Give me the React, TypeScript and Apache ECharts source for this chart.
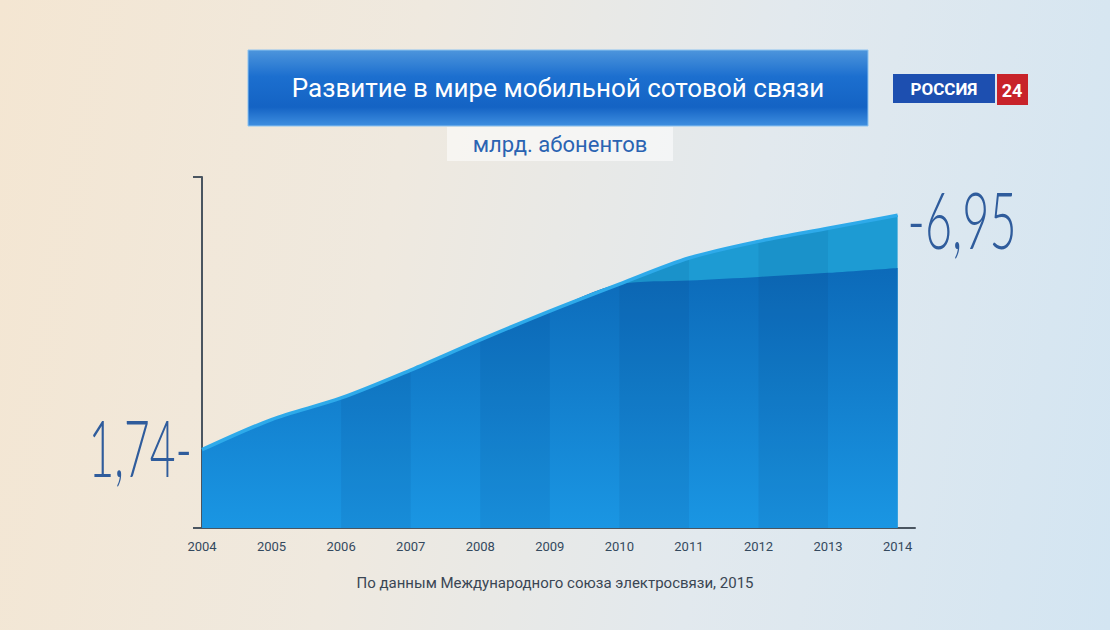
import React, { useEffect, useRef } from "react";
import * as echarts from "echarts";

const years = [2004, 2005, 2006, 2007, 2008, 2009, 2010, 2011, 2012, 2013, 2014];
const subscribers = [1.74, 2.41, 2.89, 3.51, 4.18, 4.82, 5.42, 6.0, 6.37, 6.66, 6.95];
// darker front face of the 3D-looking area (lighter top band after 2010)
const frontFace = [1.74, 2.41, 2.89, 3.51, 4.18, 4.82, 5.42, 5.5, 5.58, 5.67, 5.78];
// years that start a slightly darker vertical column in the area
const darkBandStarts = [2006, 2008, 2010, 2012];
const titleText = "Развитие в мире мобильной сотовой связи";
const unitText = "млрд. абонентов";
const sourceText = "По данным Международного союза электросвязи, 2015";

const fmt = (v: number) => v.toFixed(2).replace(".", ",");

export default function App() {
  const ref = useRef<HTMLDivElement>(null);
  useEffect(() => {
    if (!ref.current) return;
    const chart = echarts.init(ref.current, null, { renderer: "svg" });
    const n = years.length;
    const graphics: any[] = [
      {
        type: "rect",
        shape: { x: 248, y: 50, width: 620, height: 76 },
        style: {
          fill: {
            type: "linear",
            x: 0,
            y: 0,
            x2: 0,
            y2: 1,
            colorStops: [
              { offset: 0, color: "#4d95dc" },
              { offset: 0.35, color: "#1c6fcf" },
              { offset: 0.75, color: "#1463c4" },
              { offset: 1, color: "#3f8fe0" },
            ],
          },
          stroke: "#8cc3f0",
          lineWidth: 1,
        },
      },
      {
        type: "text",
        x: 558,
        y: 88,
        style: {
          text: titleText,
          fill: "#ffffff",
          font: "26px Roboto",
          align: "center",
          verticalAlign: "middle",
        },
      },
      {
        type: "rect",
        shape: { x: 447, y: 127, width: 226, height: 34 },
        style: { fill: "rgba(255,255,255,0.55)" },
      },
      {
        type: "text",
        x: 560,
        y: 144,
        style: {
          text: unitText,
          fill: "#2a63b2",
          font: "22px Roboto",
          align: "center",
          verticalAlign: "middle",
        },
      },
      {
        type: "rect",
        shape: { x: 893, y: 74, width: 102, height: 29 },
        style: { fill: "#1d4fb0" },
      },
      {
        type: "text",
        x: 944,
        y: 89,
        style: {
          text: "РОССИЯ",
          fill: "#ffffff",
          font: "bold 17px Roboto",
          align: "center",
          verticalAlign: "middle",
        },
      },
      {
        type: "rect",
        shape: { x: 997, y: 74, width: 31, height: 31 },
        style: { fill: "#c8232a" },
      },
      {
        type: "text",
        x: 1012,
        y: 90,
        style: {
          text: "24",
          fill: "#ffffff",
          font: "bold 18px Roboto",
          align: "center",
          verticalAlign: "middle",
        },
      },
      {
        type: "text",
        x: 555,
        y: 583,
        style: {
          text: sourceText,
          fill: "#3a4654",
          font: "15px Roboto",
          align: "center",
          verticalAlign: "middle",
        },
      },
    ];
    const option: any = {
      animation: false,
      grid: { left: 202, right: 195, top: 177, bottom: 102 },
      xAxis: {
        type: "value",
        min: 2004,
        max: 2014.25,
        interval: 1,
        splitLine: { show: false },
        axisTick: { show: false },
        axisLine: { show: true, lineStyle: { color: "#4a5560", width: 2 } },
        axisLabel: {
          margin: 12,
          color: "#34495e",
          fontFamily: "Roboto",
          fontSize: 13,
          formatter: (v: number) => (Number.isInteger(v) ? String(v) : ""),
        },
      },
      yAxis: {
        type: "value",
        min: 0,
        max: 7.8,
        interval: 7.8,
        splitLine: { show: false },
        axisLabel: { show: false },
        axisTick: { show: true, length: 9, lineStyle: { color: "#4a5560", width: 2 } },
        axisLine: { show: true, lineStyle: { color: "#4a5560", width: 2 } },
      },
      series: [
        {
          type: "line",
          data: years.map((y, i) => [y, subscribers[i]]),
          symbol: "none",
          smooth: 0.3,
          lineStyle: { width: 0 },
          areaStyle: { color: "#1d9bd3", opacity: 1 },
          z: 1,
        },
        {
          type: "line",
          data: years.map((y, i) => [y, frontFace[i]]),
          symbol: "none",
          smooth: 0.3,
          lineStyle: { width: 0 },
          areaStyle: {
            opacity: 1,
            color: {
              type: "linear",
              x: 0,
              y: 0,
              x2: 0,
              y2: 1,
              colorStops: [
                { offset: 0, color: "#0c6ab9" },
                { offset: 1, color: "#1a96e3" },
              ],
            },
          },
          z: 2,
        },
        {
          type: "custom",
          data: darkBandStarts.map((s) => [s]),
          silent: true,
          z: 2.5,
          renderItem: (params: any, api: any) => {
            const s = api.value(0);
            const i = years.indexOf(s);
            const a0 = api.coord([s, 0]);
            const a1 = api.coord([s, subscribers[i]]);
            const b1 = api.coord([s + 1, subscribers[i + 1]]);
            const b0 = api.coord([s + 1, 0]);
            return {
              type: "polygon",
              shape: { points: [a0, a1, b1, b0] },
              style: { fill: "rgba(0,35,90,0.07)" },
            };
          },
        },
        {
          type: "line",
          data: years.map((y, i) => [y, subscribers[i]]),
          symbol: "none",
          smooth: 0.3,
          lineStyle: { width: 3.5, color: "#2eaaea" },
          z: 3,
        },
      ],
      graphic: graphics,
    };
    chart.setOption(option);

    const p0 = chart.convertToPixel({ gridIndex: 0 }, [years[0], subscribers[0]]) as number[];
    const p1 = chart.convertToPixel({ gridIndex: 0 }, [years[n - 1], subscribers[n - 1]]) as number[];
    const valueFont = "300 78px Lato";
    chart.setOption({
      graphic: [
        ...graphics,
        {
          type: "text",
          x: p0[0] - 10,
          y: p0[1] - 3,
          scaleX: 0.57,
          style: {
            text: fmt(subscribers[0]) + "-",
            fill: "#2f5c9c",
            font: valueFont,
            align: "right",
            verticalAlign: "middle",
          },
        },
        {
          type: "text",
          x: p1[0] + 10,
          y: p1[1] + 4,
          scaleX: 0.6,
          style: {
            text: "-" + fmt(subscribers[n - 1]),
            fill: "#2f5c9c",
            font: valueFont,
            align: "left",
            verticalAlign: "middle",
          },
        },
      ],
    });
    return () => chart.dispose();
  }, []);
  return (
    <div
      ref={ref}
      style={{
        position: "fixed",
        left: 0,
        top: 0,
        width: 1110,
        height: 630,
        background:
          "linear-gradient(100deg, #f4e6d2 0%, #efe9df 35%, #e2e9ee 65%, #d3e5f2 100%)",
      }}
    />
  );
}
